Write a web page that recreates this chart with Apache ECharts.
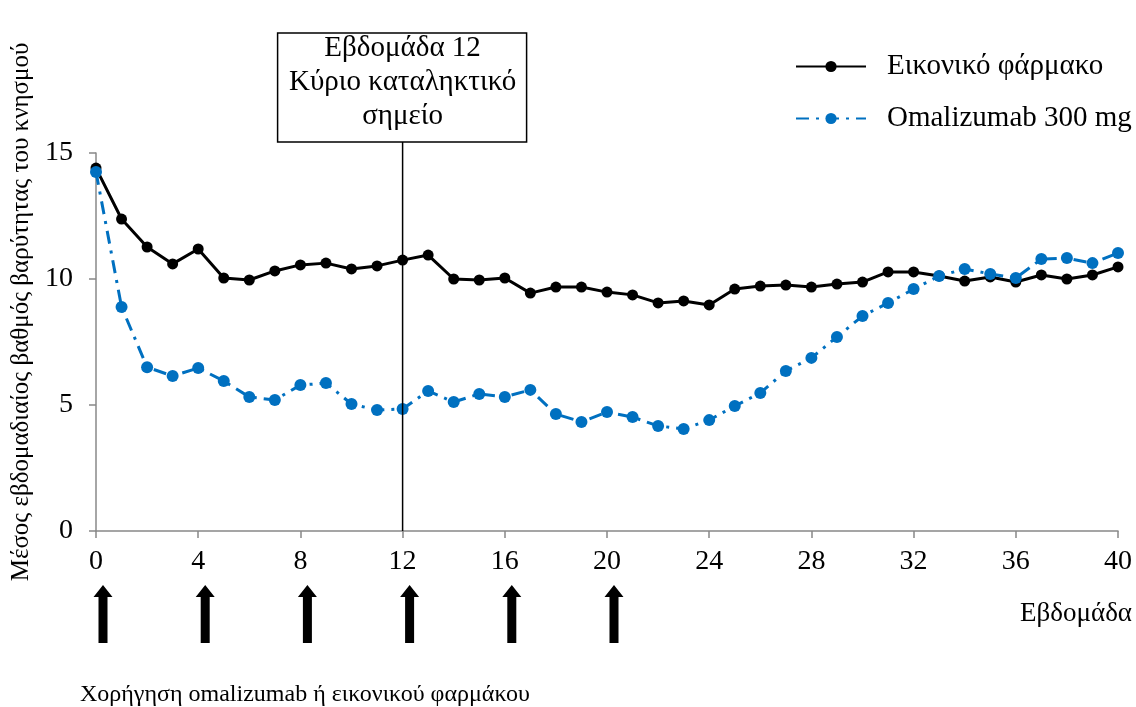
<!DOCTYPE html>
<html>
<head>
<meta charset="utf-8">
<script src="https://cdn.jsdelivr.net/npm/echarts@6/dist/echarts.min.js"></script>
<style>
  html, body { margin: 0; padding: 0; background: #fff; }
  #chart { width: 1136px; height: 707px; }
</style>
</head>
<body>
<div id="chart"></div>
<script>
    // weeks 0..40
    var weeks = [0,1,2,3,4,5,6,7,8,9,10,11,12,13,14,15,16,17,18,19,20,
                 21,22,23,24,25,26,27,28,29,30,31,32,33,34,35,36,37,38,39,40];

    var placebo = [14.4, 12.38, 11.27, 10.6, 11.19, 10.04, 9.96, 10.32, 10.56, 10.63, 10.4,
                   10.52, 10.75, 10.95, 10.0, 9.96, 10.04, 9.44, 9.68, 9.68, 9.48,
                   9.37, 9.05, 9.13, 8.97, 9.6, 9.72, 9.76, 9.68, 9.8, 9.88,
                   10.28, 10.28, 10.12, 9.92, 10.08, 9.88, 10.16, 10.0, 10.16, 10.48];

    var omalizumab = [14.25, 8.89, 6.5, 6.15, 6.47, 5.95, 5.32, 5.2, 5.79, 5.87, 5.04,
                      4.8, 4.84, 5.56, 5.12, 5.44, 5.32, 5.6, 4.64, 4.33, 4.72,
                      4.52, 4.17, 4.05, 4.4, 4.96, 5.48, 6.35, 6.87, 7.7, 8.53,
                      9.05, 9.6, 10.12, 10.4, 10.2, 10.04, 10.79, 10.83, 10.63, 11.03];

    var dosingWeeks = [0, 4, 8, 12, 16, 20];
    var endpointWeek = 12;
    var endpointText = 'Εβδομάδα 12\nΚύριο καταληκτικό\nσημείο';
    var yTitle = 'Μέσος εβδομαδιαίος βαθμός βαρύτητας του κνησμού';

    var serif = '"Liberation Serif", "DejaVu Serif", serif';

    var chart = echarts.init(document.getElementById('chart'));

    var option = {
        animation: false,
        backgroundColor: '#fff',
        grid: { left: 96, right: 18, top: 153, bottom: 176, containLabel: false, outerBoundsMode: 'none' },
        legend: {
            orient: 'vertical',
            left: 790,
            top: 47,
            itemWidth: 70,
            itemHeight: 14,
            itemGap: 23,
            textStyle: { fontFamily: serif, fontSize: 29, color: '#000', padding: [0, 0, 0, 16] },
            data: ['Εικονικό φάρμακο', 'Omalizumab 300 mg']
        },
        xAxis: {
            type: 'value',
            min: 0, max: 40, interval: 4,
            axisLine: { lineStyle: { color: '#888', width: 1.5 } },
            axisTick: { show: true, length: 7, lineStyle: { color: '#888', width: 1.5 } },
            axisLabel: { fontFamily: serif, fontSize: 28, color: '#000', margin: 17 },
            splitLine: { show: false }
        },
        yAxis: {
            type: 'value',
            min: 0, max: 15, interval: 5,
            axisLine: { show: true, lineStyle: { color: '#888', width: 1.5 } },
            axisTick: { show: true, length: 7, lineStyle: { color: '#888', width: 1.5 } },
            axisLabel: { fontFamily: serif, fontSize: 28, color: '#000', margin: 23 },
            splitLine: { show: false }
        },
        series: [
            {
                name: 'Εικονικό φάρμακο',
                type: 'line',
                data: weeks.map(function (w, i) { return [w, placebo[i]]; }),
                symbol: 'circle',
                symbolSize: 11,
                itemStyle: { color: '#000' },
                lineStyle: { color: '#000', width: 3 },
                z: 3
            },
            {
                name: 'Omalizumab 300 mg',
                type: 'line',
                data: weeks.map(function (w, i) { return [w, omalizumab[i]]; }),
                symbol: 'circle',
                symbolSize: 12,
                itemStyle: { color: '#0070C0' },
                lineStyle: { color: '#0070C0', width: 3, type: [13, 7, 3, 7] },
                z: 4
            }
        ]
    };

    chart.setOption(option);

    // annotations placed from the axis scale
    var base = chart.convertToPixel({ gridIndex: 0 }, [endpointWeek, 0]);
    var x12 = base[0];
    var y0 = base[1];

    var graphics = [
        {
            type: 'line',
            shape: { x1: x12, y1: 142, x2: x12, y2: y0 },
            style: { stroke: '#000', lineWidth: 1.5 },
            z: 10
        },
        {
            type: 'rect',
            shape: { x: x12 - 125, y: 33, width: 249, height: 109 },
            style: { fill: '#fff', stroke: '#000', lineWidth: 1.5 },
            z: 10
        },
        {
            type: 'text',
            x: x12, y: 82,
            style: {
                text: endpointText,
                font: '29px ' + serif,
                fill: '#000',
                align: 'center',
                verticalAlign: 'middle',
                lineHeight: 34
            },
            z: 11
        },
        {
            type: 'text',
            x: 21, y: 312,
            rotation: Math.PI / 2,
            style: { text: yTitle, font: '25px ' + serif, fill: '#000', align: 'center', verticalAlign: 'middle' }
        },
        {
            type: 'text',
            x: 1132, y: 614,
            style: { text: 'Εβδομάδα', font: '27px ' + serif, fill: '#000', align: 'right', verticalAlign: 'middle' }
        },
        {
            type: 'text',
            x: 80, y: 695,
            style: { text: 'Χορήγηση omalizumab ή εικονικού φαρμάκου', font: '24px ' + serif, fill: '#000', align: 'left', verticalAlign: 'middle' }
        }
    ];

    dosingWeeks.forEach(function (w) {
        var px = chart.convertToPixel({ gridIndex: 0 }, [w, 0])[0] + 7;
        graphics.push({
            type: 'polygon',
            shape: {
                points: [
                    [px - 4.5, 643], [px + 4.5, 643], [px + 4.5, 597], [px + 9.5, 597],
                    [px, 585], [px - 9.5, 597], [px - 4.5, 597]
                ]
            },
            style: { fill: '#000' }
        });
    });

    chart.setOption({ graphic: graphics });
</script>
</body>
</html>
